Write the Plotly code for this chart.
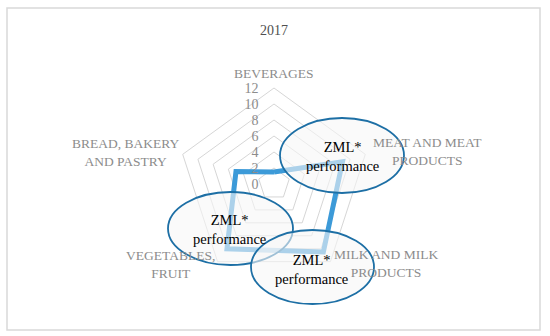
import plotly.graph_objects as go

categories = ["BEVERAGES", "MEAT AND MEAT PRODUCTS", "MILK AND MILK PRODUCTS",
              "VEGETABLES, FRUIT", "BREAD, BAKERY AND PASTRY"]
values = [1.5, 9, 10.5, 10, 5]
label_text = ["BEVERAGES", "MEAT AND MEAT<br>PRODUCTS", "MILK AND MILK<br>PRODUCTS",
              "VEGETABLES,<br>FRUIT", "BREAD, BAKERY<br>AND PASTRY"]
tick_vals = [0, 2, 4, 6, 8, 10, 12]
title = "2017"
callout = "ZML*<br>performance"

W, H = 550, 336
FONT = "Liberation Serif"

def px(x):
    return x / W

def py(y):
    return 1 - y / H

fig = go.Figure()
fig.add_trace(go.Scatterpolar(
    r=values + values[:1], theta=categories + categories[:1],
    mode="lines", line=dict(color="#3c9ad8", width=5),
    hoverinfo="skip", showlegend=False))

cx, cy, R = 274, 184, 96
fig.update_layout(
    width=W, height=H, margin=dict(l=0, r=0, t=0, b=0),
    paper_bgcolor="white", plot_bgcolor="white",
    font=dict(family=FONT),
    polar=dict(
        domain=dict(x=[px(cx - R), px(cx + R)], y=[py(cy + R), py(cy - R)]),
        bgcolor="rgba(0,0,0,0)",
        gridshape="linear",
        radialaxis=dict(range=[0, 12], tickvals=tick_vals, angle=90, tickangle=90,
                        showline=False, gridcolor="#d6d6d6", gridwidth=1,
                        side="counterclockwise", ticks="outside", ticklen=10,
                        tickcolor="rgba(0,0,0,0)",
                        tickfont=dict(family=FONT, size=14, color="#8c8c8c")),
        angularaxis=dict(rotation=90, direction="clockwise", showticklabels=False,
                         showgrid=False, showline=True, linecolor="#d6d6d6",
                         linewidth=1, ticks=""),
    ),
)

# chart border
fig.add_shape(type="rect", xref="paper", yref="paper",
              x0=px(7), x1=px(540), y0=py(330), y1=py(8),
              line=dict(color="#d9d9d9", width=1.5), layer="below")

# callout ellipses
ellipses = [(280, 404, 118, 193), (168, 293, 192, 265), (251, 374, 230, 304)]
for x0, x1, y0, y1 in ellipses:
    fig.add_shape(type="circle", xref="paper", yref="paper",
                  x0=px(x0), x1=px(x1), y0=py(y1), y1=py(y0),
                  line=dict(color="#1d6fa5", width=1.8),
                  fillcolor="rgba(246,246,246,0.6)", layer="above")

# category labels
label_pos = [(274, 73), (427, 152), (386, 263.5), (170, 264), (126, 153)]
for (x, y), t in zip(label_pos, label_text):
    fig.add_annotation(x=px(x), y=py(y), xref="paper", yref="paper", text=t,
                       showarrow=False, xanchor="center", yanchor="middle",
                       font=dict(family=FONT, size=13.5, color="#8c8c8c"))

# callout texts
callout_pos = [(342, 156), (229, 229.5), (311, 269)]
for x, y in callout_pos:
    fig.add_annotation(x=px(x), y=py(y), xref="paper", yref="paper", text=callout,
                       showarrow=False, xanchor="center", yanchor="middle",
                       font=dict(family=FONT, size=14.5, color="black"))

fig.add_annotation(x=px(274), y=py(30), xref="paper", yref="paper", text=title,
                   showarrow=False, xanchor="center", yanchor="middle",
                   font=dict(family=FONT, size=14, color="#505050"))

fig.write_html("out.html", config={"displayModeBar": False},
               post_script="document.body.style.margin='0';")
